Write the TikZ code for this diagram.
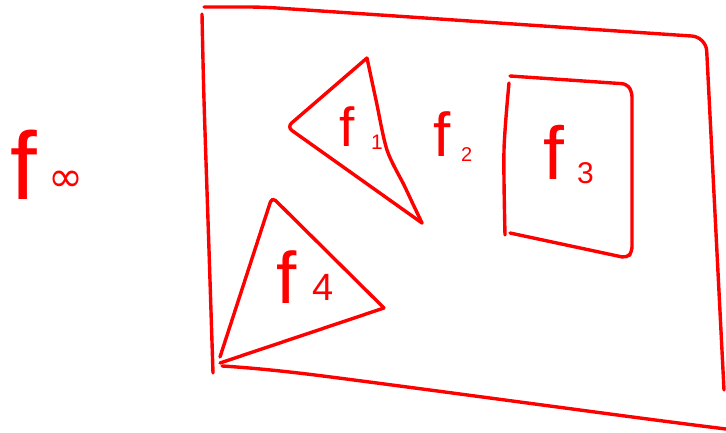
\documentclass[tikz,border=0pt]{standalone}
\usepackage{fontspec}
\setmainfont{Liberation Sans}
\newfontfamily\djv{DejaVu Sans}
\newcommand{\fsz}[1]{\fontsize{#1}{#1}\selectfont}
\begin{document}
\begin{tikzpicture}[x=1pt,y=-1pt,
  ink/.style={draw=red,line width=3.4pt,line cap=round,line join=round},
  lab/.style={text=red,anchor=base west,inner sep=0pt,outer sep=0pt}]
\useasboundingbox (0,0) rectangle (726,433);
% outer face
\draw[ink,rounded corners=14pt] (204,7) -- (262,7) -- (706,37) -- (724,390);
\draw[ink] plot[smooth] coordinates {(202,14) (204,100) (209,250) (213,373)};
\draw[ink] plot[smooth] coordinates {(222,366) (315,375) (640,418) (726,429)};
% triangle f1
\draw[ink,rounded corners=6pt] (422,223) -- (287,127) -- (367,58);
\draw[ink] plot[smooth] coordinates {(367,58) (376,100) (387,150) (404,185) (412,202) (422,223)};
% square f3
\draw[ink,rounded corners=5pt] (510,76) -- (627,84) -- (632,92) -- (632,252) -- (627,258) -- (510,233);
\draw[ink] plot[smooth] coordinates {(509,83) (504,150) (505,235)};
% triangle f4
\draw[ink,rounded corners=5pt] (220,357) -- (272,197) -- (384,308);
\draw[ink] (384,308) -- (220,363);
% labels
\node[lab] (finf) at (10,200) {\fsz{96}f};
\node[lab] (inf) at (48,192) {\djv\fsz{42}∞};
\node[lab] (f1) at (339,147) {\fsz{55}f};
\node[lab] (d1) at (371,150) {\fsz{21}1};
\node[lab] (f2) at (433,157) {\fsz{62}f};
\node[lab] (d2) at (461,162) {\fsz{20}2};
\node[lab] (f3) at (543,180) {\fsz{75}f};
\node[lab] (d3) at (577,184) {\fsz{30}3};
\node[lab] (f4) at (276,303) {\fsz{73}f};
\node[lab] (d4) at (312,300) {\fsz{38}4};
\end{tikzpicture}
\end{document}
